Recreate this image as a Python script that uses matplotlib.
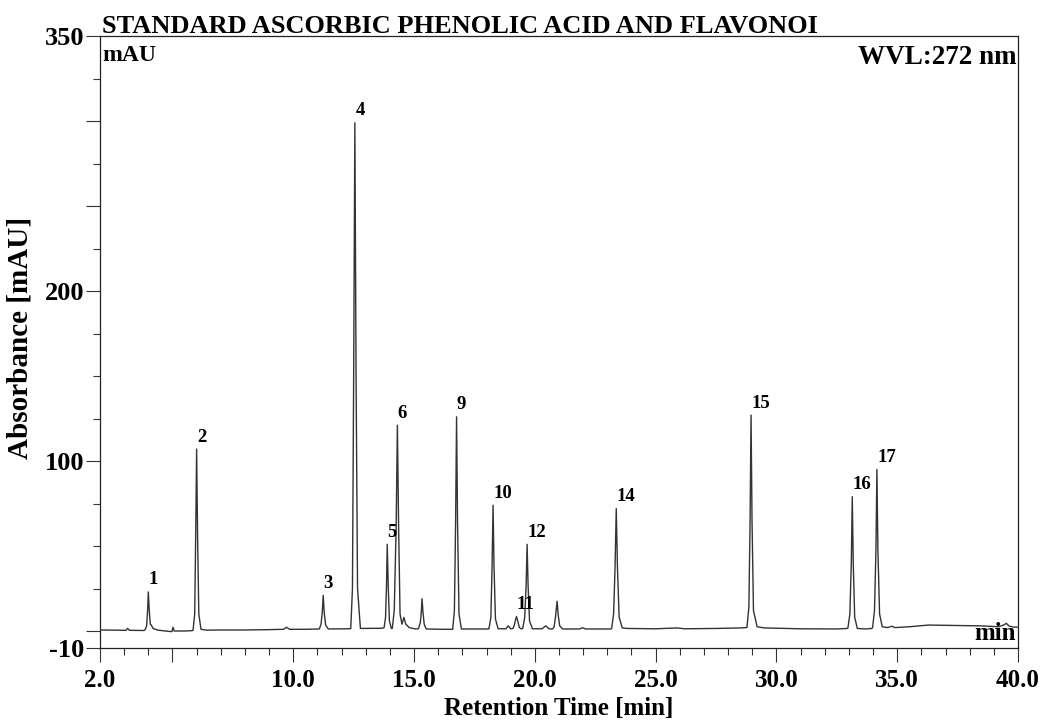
import matplotlib
matplotlib.use("Agg")
import matplotlib.pyplot as plt
from matplotlib.ticker import FixedLocator

# chromatogram trace (retention time [min], absorbance [mAU])
time_min = [
    2.05, 2.9, 3.08, 3.14, 3.22, 3.8,
    3.86, 3.93, 3.97, 4.00, 4.04, 4.08, 4.12, 4.2, 4.4,                # 1
    4.9, 4.98, 5.02, 5.07, 5.5, 5.8,
    5.85, 5.92, 5.96, 6.00, 6.04, 6.09, 6.18, 6.4,                     # 2
    7.0, 8.0, 9.0, 9.6, 9.72, 9.85, 10.5, 11.05,
    11.08, 11.15, 11.2, 11.24, 11.28, 11.34, 11.45,                    # 3
    12.2, 12.36,
    12.38, 12.45, 12.50, 12.55, 12.60, 12.66, 12.78,                   # 4
    13.6, 13.72,
    13.76, 13.82, 13.86, 13.89, 13.93, 13.98, 14.06,                   # 5
    14.1, 14.18, 14.26, 14.31, 14.36, 14.42, 14.5, 14.58, 14.66, 14.8, 15.05,  # 6
    15.18, 15.26, 15.3, 15.33, 15.37, 15.42, 15.5,                     # 7
    16.2, 16.55,
    16.6, 16.67, 16.72, 16.76, 16.80, 16.86, 16.96,                    # 9
    17.9, 18.07,
    18.1, 18.18, 18.23, 18.27, 18.31, 18.37, 18.48,                    # 10
    18.8, 18.9, 19.0, 19.1,
    19.15, 19.2, 19.24, 19.29, 19.36, 19.45,                           # 11
    19.5, 19.58, 19.64, 19.68, 19.72, 19.78, 19.9,                     # 12
    20.3, 20.45, 20.6, 20.75,
    20.8, 20.86, 20.92, 20.97, 21.03, 21.15,                           # 13
    21.85, 21.97, 22.1, 23.15,
    23.18, 23.26, 23.32, 23.37, 23.42, 23.49, 23.62, 23.8,             # 14
    25.0, 25.9, 26.2, 27.5, 28.5, 28.75,
    28.78, 28.86, 28.91, 28.95, 28.99, 29.05, 29.2, 29.5,              # 15
    31.0, 32.5, 32.93,
    32.96, 33.04, 33.1, 33.14, 33.18, 33.24, 33.35,                    # 16
    33.7, 33.95,
    33.98, 34.06, 34.12, 34.16, 34.2, 34.27, 34.38,                    # 17
    34.6, 34.78, 34.9, 35.5, 36.3, 37.5, 38.5, 39.2, 39.4, 39.52, 39.62, 39.8, 40.0,
]
absorbance = [
    0.6, 0.4, 0.4, 1.6, 0.4, 0.3,
    0.5, 3, 12, 23, 12, 4, 3.5, 1.5, 0.5,
    -0.3, -0.3, 2.2, 0, 0, 0.2,
    0.3, 10, 55, 107, 55, 10, 1, 0.5,
    0.6, 0.6, 0.8, 1.0, 2.2, 1.0, 1.0, 1.2,
    1.2, 4, 11, 21, 11, 3.5, 1.2,
    1.3, 1.4,
    1.4, 25, 150, 299, 150, 25, 1.5,
    1.6, 1.7,
    2, 8, 27, 51, 27, 6, 1.5,
    1.6, 12, 62, 121, 62, 10, 4, 8, 4, 2, 1.2,
    1.3, 5, 11, 19, 11, 4, 1.2,
    1, 1,
    1, 12, 64, 126, 64, 10, 1.2,
    1.2, 1.2,
    1.3, 8, 38, 74, 38, 7, 1.3,
    1.3, 3, 1.3, 1.5,
    3.5, 6.5, 8.5, 6, 2, 1.2,
    1.5, 8, 27, 51, 27, 6, 1.3,
    1.3, 3, 1.2, 1.3,
    2.5, 9, 17.5, 9, 3, 1.2,
    1.2, 1.9, 1.2, 1.2,
    1.5, 10, 37, 72, 37, 8, 1.8, 1.5,
    1.3, 1.8, 1.3, 1.5, 1.8, 2,
    2.1, 14, 65, 127, 65, 12, 2.5, 1.8,
    1.3, 1.2, 1.5,
    1.8, 10, 40, 79, 40, 8, 1.5,
    1.2, 1.5,
    2, 12, 48, 95, 48, 10, 2.5,
    2, 2.8, 2, 2.5, 3.5, 3.2, 3, 2.5, 3.5, 4.5, 3, 2.3, 2.3,
]

# labelled peaks
peak_names = ["1", "2", "3", "4", "5", "6", "9", "10", "11", "12", "14", "15", "16", "17"]
peak_rt = [4.00, 6.00, 11.24, 12.55, 13.89, 14.31, 16.76, 18.27, 19.24, 19.68, 23.37, 28.95, 33.14, 34.16]
peak_top = [23, 107, 21, 299, 51, 121, 126, 74, 8.5, 51, 72, 127, 79, 95]

x_major = [2, 5, 10, 15, 20, 25, 30, 35, 40]
x_major_labels = ["2.0", "", "10.0", "15.0", "20.0", "25.0", "30.0", "35.0", "40.0"]
y_major = [-10, 0, 100, 200, 250, 300, 350]
y_major_labels = ["-10", "", "100", "200", "", "", "350"]

font = "Liberation Serif"

fig = plt.figure(figsize=(10.44, 7.21), dpi=100)
ax = fig.add_axes([100 / 1044, 1 - 648 / 721, 918 / 1044, 612 / 721])

ax.plot(time_min, absorbance, color="#333333", lw=1.0)

for name, rt, top in zip(peak_names, peak_rt, peak_top):
    ax.annotate(name, (rt, top), xytext=(0.3, 2.5), textcoords="offset points",
                ha="left", va="bottom", fontsize=13.5, fontweight="bold",
                family=font, color="black")

ax.set_xlim(2, 40)
ax.set_ylim(-10, 350)

ax.xaxis.set_major_locator(FixedLocator(x_major))
ax.set_xticklabels(x_major_labels)
ax.xaxis.set_minor_locator(FixedLocator([t for t in range(3, 40) if t % 5 != 0]))
ax.yaxis.set_major_locator(FixedLocator(y_major))
ax.set_yticklabels(y_major_labels)
ax.yaxis.set_minor_locator(FixedLocator([25, 50, 75, 125, 150, 175, 225, 275, 325]))

ax.tick_params(which="major", length=10, width=0.8, direction="out", color="#333333")
ax.tick_params(which="minor", length=5, width=0.8, direction="out", color="#333333")
ax.tick_params(axis="x", labelsize=18, pad=5)
ax.tick_params(axis="y", labelsize=19, pad=1)
for lab in ax.get_xticklabels() + ax.get_yticklabels():
    lab.set_fontweight("bold")
    lab.set_family(font)
for s in ax.spines.values():
    s.set_linewidth(0.9)
    s.set_color("#222222")

fig.text(559 / 1044, 1 - 708 / 721, "Retention Time [min]", fontsize=18, fontweight="bold",
         family=font, ha="center", va="center")
fig.text(20 / 1044, 1 - 338 / 721, "Absorbance [mAU]", fontsize=21, fontweight="bold",
         family=font, ha="center", va="center", rotation=90)

fig.text(102 / 1044, 1 - 33 / 721, "STANDARD ASCORBIC PHENOLIC ACID AND FLAVONOI",
         fontsize=19, fontweight="bold", family=font, ha="left", va="baseline")
ax.text(0.002, 0.985, "mAU", transform=ax.transAxes, fontsize=17, fontweight="bold",
        family=font, ha="left", va="top")
ax.text(0.998, 0.985, "WVL:272 nm", transform=ax.transAxes, fontsize=19.5, fontweight="bold",
        family=font, ha="right", va="top")
ax.text(0.998, 0.005, "min", transform=ax.transAxes, fontsize=18, fontweight="bold",
        family=font, ha="right", va="bottom")

fig.savefig("out.png", dpi=100)
